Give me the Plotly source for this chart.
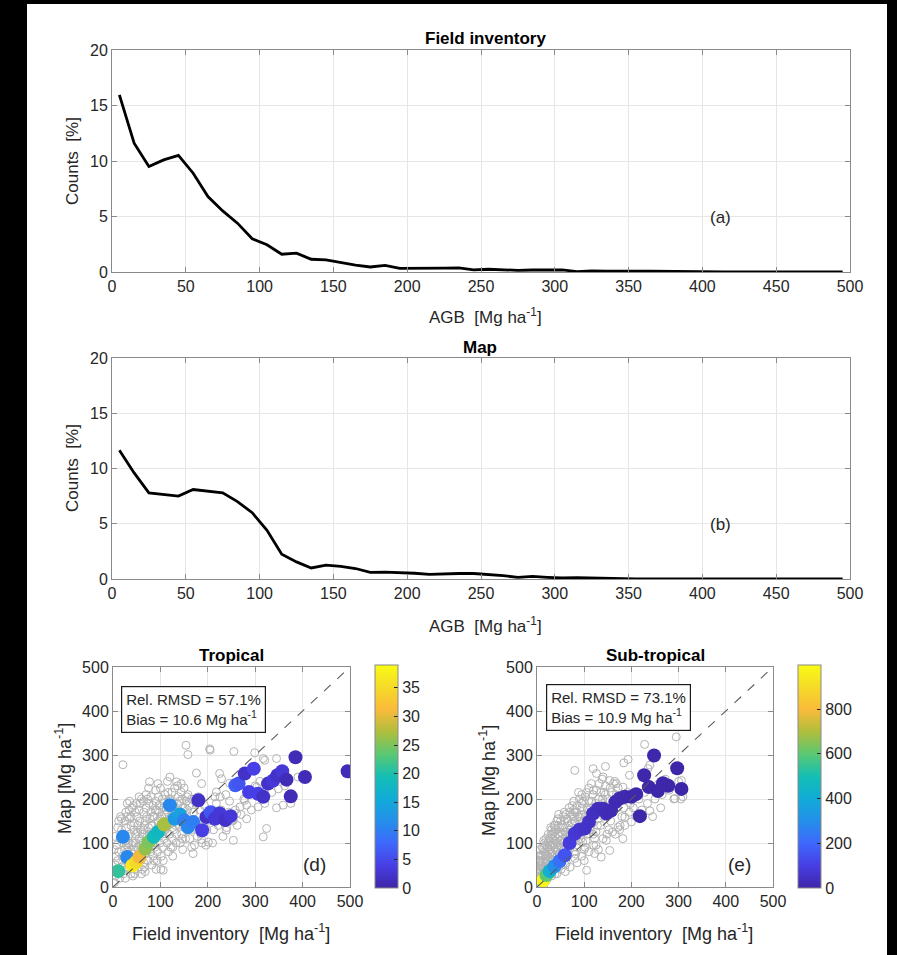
import plotly.graph_objects as go

W, H = 897, 955

# ---------------- data ----------------
agb_bins = [5, 15, 25, 35, 45, 55, 65, 75, 85, 95, 105, 115, 125, 135, 145, 155, 165, 175, 185, 195,
            205, 215, 225, 235, 245, 255, 265, 275, 285, 295, 305, 315, 325, 335, 345, 355, 365, 375, 385, 395,
            405, 415, 425, 435, 445, 455, 465, 475, 485, 495]
field_pct = [15.95, 11.6, 9.5, 10.1, 10.5, 8.9, 6.8, 5.5, 4.4, 3.0, 2.45, 1.6, 1.7, 1.15, 1.1, 0.85, 0.62, 0.45, 0.6, 0.33,
             0.33, 0.3, 0.35, 0.38, 0.2, 0.25, 0.2, 0.15, 0.18, 0.22, 0.2, 0.03, 0.1, 0.08, 0.1, 0.08, 0.07, 0.05, 0.06, 0.04,
             0.04, 0.02, 0.02, 0.03, 0.02, 0.02, 0.04, 0.05, 0.02, 0.02]
map_pct = [11.65, 9.6, 7.8, 7.65, 7.5, 8.1, 7.95, 7.8, 7.0, 6.0, 4.4, 2.25, 1.55, 1.0, 1.25, 1.15, 0.95, 0.6, 0.62, 0.58,
           0.52, 0.42, 0.48, 0.5, 0.5, 0.42, 0.3, 0.15, 0.24, 0.15, 0.09, 0.12, 0.08, 0.07, 0.01, 0.01, 0.01, 0.01, 0.01, 0.01,
           0.01, 0.01, 0.01, 0.01, 0.01, 0.01, 0.01, 0.01, 0.01, 0.01]

# Tropical: binned means (coloured) and individual plots (grey)
trop_bin_x = [11, 30, 21, 41, 49, 56, 68, 75, 86, 95, 108, 120, 130, 141, 150, 158, 169, 180, 188, 197,
              206, 215, 225, 237, 248, 258, 265, 278, 287, 297, 306, 317, 327, 338, 347, 357, 366, 375, 385, 405, 495]
trop_bin_y = [36, 68, 114, 49, 57, 68, 87, 102, 114, 125, 142, 186, 155, 165, 151, 136, 148, 197, 129, 159,
              170, 155, 167, 152, 161, 231, 235, 258, 216, 269, 212, 205, 235, 242, 254, 263, 244, 206, 295, 250, 263]
trop_bin_n = [21, 11, 11, 37, 35, 31, 26, 25, 19, 18, 27, 11, 13, 14, 10, 11, 10, 2, 4, 2,
              6, 3, 3, 2, 3, 7, 6, 2, 4, 4, 4, 2, 2, 3, 2, 3, 1, 1, 1, 1, 1]
trop_grey = [
    (3, 10), (5, 25), (8, 40), (10, 60), (12, 80), (8, 95), (15, 110), (18, 130), (5, 50), (14, 20), (18, 45), (20, 70),
    (12, 150), (18, 155), (20, 100), (6, 70), (4, 115), (10, 135), (16, 160), (2, 85),
    (22, 30), (25, 45), (28, 60), (30, 80), (32, 100), (35, 120), (38, 140), (25, 150), (30, 160), (35, 155), (22, 120),
    (28, 135), (38, 30), (36, 50), (40, 75), (33, 90), (26, 105), (38, 160), (24, 85), (30, 40), (27, 170), (34, 175),
    (42, 25), (45, 40), (48, 55), (50, 70), (52, 90), (55, 110), (58, 130), (45, 145), (50, 160), (55, 175), (42, 100),
    (48, 120), (56, 150), (60, 30), (58, 60), (44, 85), (52, 140), (47, 170), (59, 95), (53, 45), (43, 185), (57, 190),
    (62, 40), (65, 55), (68, 75), (70, 95), (72, 115), (75, 135), (78, 155), (65, 170), (70, 180), (76, 190), (62, 120),
    (66, 140), (74, 60), (79, 80), (63, 100), (71, 160), (77, 110), (68, 35), (80, 170), (73, 200), (64, 195),
    (82, 50), (85, 70), (88, 90), (90, 110), (92, 130), (95, 150), (98, 170), (85, 185), (90, 195), (96, 205), (83, 140),
    (87, 160), (94, 80), (99, 100), (81, 120), (93, 60), (97, 185), (89, 175), (84, 100), (100, 140), (91, 40),
    (102, 70), (105, 90), (108, 110), (110, 130), (112, 150), (115, 170), (118, 190), (104, 200), (110, 210), (116, 215),
    (103, 160), (107, 180), (114, 100), (119, 120), (101, 40), (113, 140), (117, 80), (106, 125), (120, 155), (109, 165),
    (122, 90), (125, 110), (128, 130), (130, 150), (132, 170), (135, 190), (138, 205), (124, 215), (130, 225), (136, 230),
    (123, 160), (127, 180), (134, 120), (139, 140), (126, 70), (133, 100), (137, 160), (121, 195),
    (142, 100), (145, 120), (148, 140), (150, 160), (152, 180), (155, 195), (158, 210), (144, 215), (150, 225), (156, 130),
    (147, 85), (153, 110), (159, 150), (141, 170), (146, 200), (157, 175),
    (162, 110), (165, 130), (168, 150), (170, 170), (175, 190), (180, 205), (185, 120), (190, 140), (195, 160), (172, 95),
    (178, 115), (183, 175), (188, 100), (193, 185), (198, 130), (166, 200), (176, 145), (196, 95),
    (202, 150), (208, 170), (212, 130), (218, 190), (222, 140), (228, 175), (235, 160), (240, 135), (246, 195), (252, 150),
    (258, 175), (232, 115), (244, 170), (210, 100), (226, 205), (238, 210),
    (262, 140), (270, 165), (276, 200), (285, 210), (292, 175), (300, 230), (310, 240), (320, 190), (335, 215), (345, 180),
    (362, 230), (375, 190), (390, 250), (282, 155),
    (21, 278), (154, 322), (158, 301), (204, 314), (205, 311), (255, 308), (299, 305), (317, 292), (320, 288), (345, 292),
    (77, 239), (120, 250), (134, 239), (144, 235), (176, 259), (187, 235), (225, 258), (229, 246), (246, 236), (215, 205),
    (218, 216), (268, 182), (278, 197), (282, 186), (306, 182), (349, 223), (359, 186), (324, 133), (317, 114), (254, 106),
    (239, 129), (201, 102), (187, 108), (169, 76), (106, 38), (254, 152), (261, 167), (303, 227), (331, 242),
    (15, 35), (20, 55), (25, 70), (28, 95), (32, 115), (36, 65), (40, 95), (44, 130), (48, 100), (52, 125), (56, 80),
    (60, 105), (64, 130), (68, 150), (72, 90), (76, 120), (80, 140), (84, 160), (88, 125), (92, 175), (96, 135),
    (100, 155), (104, 120), (108, 190), (112, 175), (116, 140), (120, 200), (124, 145), (128, 190), (132, 140),
    (136, 175), (140, 195), (144, 150), (148, 180), (152, 165), (156, 205), (160, 185), (40, 180), (50, 190), (60, 200),
    (70, 210), (80, 205), (35, 195), (90, 220), (100, 225), (26, 20), (46, 30), (66, 45), (86, 60), (106, 60),
    (126, 90), (146, 110), (166, 90), (186, 130), (30, 190), (55, 205), (75, 225), (95, 235), (115, 240),
]
trop_grey_x = [p[0] for p in trop_grey]
trop_grey_y = [p[1] for p in trop_grey]

# Sub-tropical
sub_bin_x = [13, 20, 27, 37, 48, 59, 69, 80, 90, 101, 110, 119, 129, 140, 147, 157, 166, 175, 186, 200,
             210, 218, 227, 237, 248, 256, 267, 278, 297, 306]
sub_bin_y = [15, 27, 36, 47, 59, 72, 100, 121, 130, 133, 148, 167, 178, 178, 167, 174, 193, 201, 205, 205,
             211, 161, 254, 227, 299, 218, 236, 230, 270, 223]
sub_bin_n = [980, 600, 420, 300, 220, 150, 90, 75, 65, 55, 48, 42, 36, 30, 26, 22, 18, 15, 12, 10,
             8, 6, 5, 4, 3, 3, 3, 2, 2, 1]
sub_grey = [
    (2, 5), (4, 15), (6, 25), (8, 10), (10, 35), (12, 20), (14, 45), (16, 30), (18, 55), (5, 40), (8, 60), (12, 70),
    (15, 80), (18, 95), (3, 30), (10, 50), (20, 15), (7, 85), (16, 100), (19, 70), (1, 12), (13, 8), (9, 22), (17, 40),
    (6, 55), (11, 90), (4, 70), (14, 105),
    (22, 20), (24, 35), (26, 50), (28, 65), (30, 80), (32, 95), (34, 110), (36, 125), (38, 140), (25, 105), (30, 120),
    (35, 60), (38, 30), (40, 45), (22, 90), (27, 75), (33, 40), (37, 90), (29, 135), (24, 60), (39, 105), (31, 25),
    (42, 30), (44, 45), (46, 60), (48, 75), (50, 90), (52, 105), (54, 120), (56, 135), (58, 150), (45, 140), (50, 125),
    (55, 160), (60, 50), (42, 100), (47, 115), (53, 70), (57, 85), (59, 110), (44, 155), (51, 40),
    (62, 55), (64, 70), (66, 85), (68, 100), (70, 115), (72, 130), (74, 145), (76, 160), (78, 175), (65, 150), (70, 170),
    (75, 185), (80, 65), (63, 125), (67, 140), (73, 95), (77, 110), (79, 80), (61, 165),
    (82, 75), (84, 90), (86, 105), (88, 120), (90, 135), (92, 150), (94, 165), (96, 180), (98, 195), (85, 185), (90, 200),
    (95, 210), (100, 85), (83, 140), (87, 160), (93, 110), (97, 125), (99, 150), (81, 170),
    (102, 90), (104, 105), (106, 120), (108, 135), (110, 150), (112, 165), (114, 180), (116, 195), (118, 210), (105, 215),
    (110, 225), (115, 235), (120, 95), (103, 160), (107, 175), (113, 130), (117, 145), (119, 120),
    (122, 110), (125, 125), (128, 140), (130, 155), (133, 170), (136, 185), (139, 200), (142, 215), (145, 230), (126, 220),
    (132, 235), (138, 245), (148, 120), (124, 190), (135, 140), (141, 160), (147, 180), (150, 200),
    (152, 130), (156, 150), (160, 170), (164, 190), (168, 210), (172, 225), (176, 140), (180, 160), (184, 180), (188, 200),
    (192, 215), (196, 170), (158, 215), (166, 120), (174, 195), (186, 140), (198, 190), (162, 235),
    (204, 180), (210, 160), (216, 200), (222, 175), (228, 215), (234, 190), (240, 225), (250, 200), (258, 235), (265, 210),
    (272, 245), (280, 220), (290, 200), (300, 240), (305, 200), (245, 160), (262, 180),
    (295, 341), (228, 324), (193, 290), (184, 282), (145, 274), (80, 265), (119, 269), (140, 250), (126, 258), (235, 269),
    (239, 277), (196, 254), (306, 242), (309, 205), (292, 201), (239, 173), (200, 148), (182, 110), (154, 83), (136, 68),
    (105, 38), (122, 76), (97, 102), (147, 106), (172, 136), (186, 159), (209, 205), (182, 227), (168, 235), (154, 242),
    (1, 20), (2, 35), (3, 50), (4, 60), (5, 8), (6, 18), (7, 32), (8, 48), (9, 72), (10, 12), (11, 28), (12, 42),
    (13, 58), (14, 88), (15, 5), (16, 18), (17, 65), (18, 78), (19, 110), (20, 40), (21, 55), (22, 72), (23, 100),
    (24, 120), (25, 28), (26, 85), (27, 110), (28, 45), (29, 95), (30, 60), (31, 130), (32, 75), (33, 120), (34, 50),
    (35, 100), (36, 140), (37, 70), (38, 115), (39, 85), (40, 130), (41, 60), (42, 150), (43, 80), (44, 120), (45, 95),
    (46, 165), (47, 75), (48, 135), (49, 105), (50, 150), (52, 85), (54, 140), (56, 100), (58, 170), (60, 125),
    (62, 90), (64, 155), (66, 115), (68, 180), (70, 130), (72, 105), (74, 165), (76, 125), (78, 195), (80, 150),
    (82, 110), (84, 170), (86, 135), (88, 215), (90, 160), (92, 125), (95, 190), (98, 140), (102, 205), (106, 180),
    (110, 195), (115, 165), (120, 220), (125, 175), (130, 200), (135, 215), (140, 190), (145, 210), (155, 225),
    (165, 240), (170, 180), (60, 35), (70, 45), (85, 55), (95, 70), (110, 80), (125, 95), (140, 110), (160, 125),
    (175, 130), (130, 85), (100, 60),
]
sub_grey_x = [p[0] for p in sub_grey]
sub_grey_y = [p[1] for p in sub_grey]

one_to_one = [0, 500]

trop_rmsd, trop_bias = 57.1, 10.6
sub_rmsd, sub_bias = 73.1, 10.9

trop_cbar_ticks = [0, 5, 10, 15, 20, 25, 30, 35]
sub_cbar_ticks = [0, 200, 400, 600, 800]
trop_cmax, sub_cmax = 39, 997

# ---------------- styling helpers ----------------
def pxx(p):
    return p / W


def pxy(p):
    return 1 - p / H


FONT = "Liberation Sans, Arial, Helvetica, sans-serif"
TXT = "#262626"
AXC = "#8a8a8a"
GRID = "#e6e6e6"
SP2 = "&nbsp;&nbsp;"

parula = [
    [0.00, "rgb(62,38,168)"],
    [0.10, "rgb(71,62,228)"],
    [0.20, "rgb(62,104,252)"],
    [0.30, "rgb(36,143,234)"],
    [0.40, "rgb(16,171,216)"],
    [0.50, "rgb(20,190,180)"],
    [0.60, "rgb(90,200,115)"],
    [0.70, "rgb(175,190,60)"],
    [0.80, "rgb(250,186,58)"],
    [0.90, "rgb(245,218,40)"],
    [1.00, "rgb(249,251,20)"],
]

fig = go.Figure()

# panel (a) / (b)
fig.add_trace(go.Scatter(x=agb_bins, y=field_pct, mode="lines", line=dict(color="black", width=2.8),
                         xaxis="x", yaxis="y", showlegend=False, hoverinfo="skip"))
fig.add_trace(go.Scatter(x=agb_bins, y=map_pct, mode="lines", line=dict(color="black", width=2.8),
                         xaxis="x2", yaxis="y2", showlegend=False, hoverinfo="skip"))


def scatter_panel(xa, ya, gx, gy, bx, by, bn, cmax, ticks, cb_left):
    fig.add_trace(go.Scatter(x=gx, y=gy, mode="markers", xaxis=xa, yaxis=ya, showlegend=False,
                             marker=dict(symbol="circle-open", size=8, color="#b3b3b3", line=dict(width=1))))
    fig.add_trace(go.Scatter(x=bx, y=by, mode="markers", xaxis=xa, yaxis=ya, showlegend=False,
                             marker=dict(size=14, color=bn, colorscale=parula, cmin=0, cmax=cmax,
                                         line=dict(width=0), showscale=True,
                                         colorbar=dict(x=pxx(cb_left), xanchor="left", xpad=0,
                                                       y=pxy(776.5), yanchor="middle", ypad=0,
                                                       len=(888 - 665) / H, lenmode="fraction",
                                                       thickness=23, thicknessmode="pixels",
                                                       outlinewidth=1, outlinecolor=AXC,
                                                       ticks="inside", ticklen=4, tickcolor=TXT,
                                                       tickvals=ticks,
                                                       tickfont=dict(size=16, color=TXT, family=FONT)))))
    fig.add_trace(go.Scatter(x=one_to_one, y=one_to_one, mode="lines", xaxis=xa, yaxis=ya, showlegend=False,
                             line=dict(color="#5a5a5a", width=1.1, dash="dash")))


scatter_panel("x3", "y3", trop_grey_x, trop_grey_y, trop_bin_x, trop_bin_y, trop_bin_n, trop_cmax,
              trop_cbar_ticks, 375)
scatter_panel("x4", "y4", sub_grey_x, sub_grey_y, sub_bin_x, sub_bin_y, sub_bin_n, sub_cmax,
              sub_cbar_ticks, 798)

ax_common = dict(showline=True, linecolor=AXC, linewidth=1, mirror="ticks", ticks="inside", ticklen=5,
                 tickcolor=AXC, showgrid=True, gridcolor=GRID, gridwidth=1, zeroline=False,
                 automargin=False)

top_x = dict(ax_common, range=[0, 500], dtick=50, tick0=0, tickfont=dict(size=16, color=TXT, family=FONT))
top_y = dict(ax_common, range=[0, 20], dtick=5, tick0=0, tickfont=dict(size=16, color=TXT, family=FONT))
sc_ax = dict(ax_common, range=[0, 500], dtick=100, tick0=0, tickfont=dict(size=16, color=TXT, family=FONT))

fig.update_layout(
    width=W, height=H, template="none",
    margin=dict(l=0, r=0, t=0, b=0, pad=0),
    paper_bgcolor="black", plot_bgcolor="white",
    font=dict(family=FONT, color=TXT),
    showlegend=False,
    xaxis=dict(top_x, domain=[pxx(112), pxx(850)], anchor="y"),
    yaxis=dict(top_y, domain=[pxy(272), pxy(50)], anchor="x"),
    xaxis2=dict(top_x, domain=[pxx(112), pxx(850)], anchor="y2"),
    yaxis2=dict(top_y, domain=[pxy(579), pxy(358)], anchor="x2"),
    xaxis3=dict(sc_ax, domain=[pxx(113), pxx(350)], anchor="y3"),
    yaxis3=dict(sc_ax, domain=[pxy(887), pxy(667)], anchor="x3"),
    xaxis4=dict(sc_ax, domain=[pxx(537), pxx(773)], anchor="y4"),
    yaxis4=dict(sc_ax, domain=[pxy(887), pxy(667)], anchor="x4"),
)

# white figure area inside the black frame
fig.add_shape(type="rect", xref="paper", yref="paper", x0=pxx(27), x1=pxx(887), y0=0, y1=pxy(4),
              fillcolor="white", line=dict(width=0), layer="below")


def ptext(x, y, text, size, bold=False, angle=0):
    fig.add_annotation(xref="paper", yref="paper", x=pxx(x), y=pxy(y), text=f"<b>{text}</b>" if bold else text,
                       showarrow=False, xanchor="center", yanchor="middle", textangle=angle,
                       font=dict(size=size, color=TXT if not bold else "black", family=FONT))


# titles
ptext(485, 39, "Field inventory", 17, bold=True)
ptext(480, 347, "Map", 17, bold=True)
ptext(231, 655, "Tropical", 17, bold=True)
ptext(655, 655, "Sub-tropical", 17, bold=True)

# axis titles
unit = "[Mg ha<sup>-1</sup>]"
ptext(485, 316, "AGB" + SP2 + unit, 17)
ptext(72, 161, "Counts" + SP2 + "[%]", 17, angle=-90)
ptext(485, 625, "AGB" + SP2 + unit, 17)
ptext(72, 468, "Counts" + SP2 + "[%]", 17, angle=-90)
ptext(231, 932, "Field inventory" + SP2 + unit, 18)
ptext(63, 778, "Map " + unit, 18, angle=-90)
ptext(654, 932, "Field inventory" + SP2 + unit, 18)
ptext(487, 781, "Map " + unit, 18, angle=-90)

# panel letters (data coordinates)
for xr, yr, xv, yv, lab in [("x", "y", 412, 4.9, "(a)"), ("x2", "y2", 412, 4.9, "(b)"),
                            ("x3", "y3", 426, 52, "(d)"), ("x4", "y4", 428, 52, "(e)")]:
    fig.add_annotation(xref=xr, yref=yr, x=xv, y=yv, text=lab, showarrow=False,
                       font=dict(size=17 if xr in ("x", "x2") else 19, color=TXT, family=FONT))

# statistics boxes
for bx, by, rm, bi in [(120.7, 685.7, trop_rmsd, trop_bias), (545.7, 684.3, sub_rmsd, sub_bias)]:
    fig.add_annotation(xref="paper", yref="paper", x=pxx(bx), y=pxy(by), xanchor="left", yanchor="top",
                       text=f"Rel. RMSD = {rm}%<br>Bias = {bi} Mg ha<sup>-1</sup>", align="left",
                       showarrow=False, bordercolor="#1a1a1a", borderwidth=1.2, borderpad=4, bgcolor="white",
                       font=dict(size=15, color=TXT, family=FONT))

fig.write_html("out.html", config={"displayModeBar": False},
               post_script="document.body.style.margin='0';document.body.style.background='black';")
